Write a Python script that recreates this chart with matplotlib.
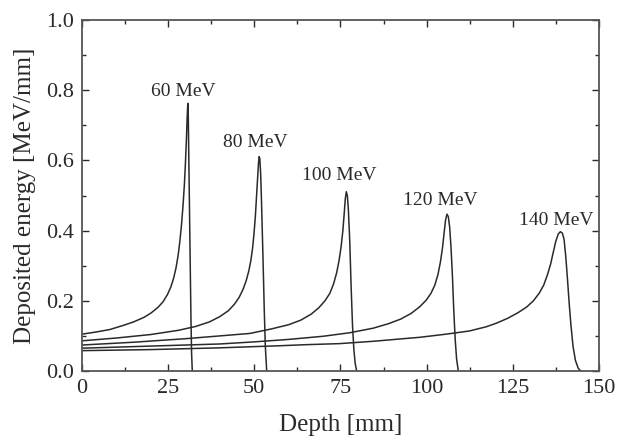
import matplotlib.pyplot as plt
from matplotlib.ticker import MultipleLocator

# Bragg curves
depth_60 = [0, 4, 8, 12, 15, 18, 20, 22, 23.5, 24.8, 25.8, 26.6, 27.3, 27.9,
            28.4, 28.9, 29.3, 29.7, 30.0, 30.3, 30.5, 30.7, 30.85, 31.0, 31.3,
            31.6, 31.8, 32.0]
dose_60 = [0.105, 0.111, 0.118, 0.13, 0.14, 0.153, 0.165, 0.181, 0.197, 0.218,
           0.24, 0.265, 0.295, 0.33, 0.37, 0.42, 0.47, 0.53, 0.59, 0.66, 0.72,
           0.763, 0.72, 0.6, 0.38, 0.16, 0.05, 0.0]

depth_80 = [0, 10, 20, 28, 33, 37, 40, 42.5, 44.2, 45.6, 46.7, 47.6, 48.4, 49.0,
            49.5, 49.9, 50.3, 50.6, 50.9, 51.2, 51.4, 51.6, 51.85, 52.1, 52.5,
            52.9, 53.2, 53.6]
dose_80 = [0.086, 0.094, 0.104, 0.116, 0.127, 0.14, 0.155, 0.172, 0.19, 0.21,
           0.232, 0.256, 0.285, 0.315, 0.35, 0.39, 0.44, 0.49, 0.54, 0.59,
           0.611, 0.605, 0.56, 0.48, 0.33, 0.17, 0.07, 0.0]

depth_100 = [0, 15, 30, 40, 48.7, 55, 60, 63.5, 66.5, 68.7, 70.5, 71.9, 73.0,
             73.9, 74.6, 75.2, 75.7, 76.1, 76.4, 76.7, 77.0, 77.3, 77.7, 78.1,
             78.5, 78.9, 79.3, 79.7]
dose_100 = [0.074, 0.082, 0.092, 0.1, 0.107, 0.12, 0.132, 0.145, 0.162, 0.18,
            0.2, 0.221, 0.248, 0.28, 0.315, 0.355, 0.4, 0.45, 0.49, 0.511, 0.5,
            0.46, 0.37, 0.24, 0.13, 0.06, 0.02, 0.0]

depth_120 = [0, 20, 40, 50, 60, 70, 77.7, 84.5, 89, 92.5, 95.5, 98, 99.9, 101.3,
             102.4, 103.3, 104.0, 104.6, 105.1, 105.5, 105.9, 106.3, 106.7,
             107.1, 107.5, 107.9, 108.3, 108.7, 109.2]
dose_120 = [0.065, 0.071, 0.077, 0.083, 0.09, 0.099, 0.109, 0.122, 0.135, 0.148,
            0.164, 0.183, 0.202, 0.222, 0.245, 0.275, 0.31, 0.35, 0.395, 0.43,
            0.447, 0.44, 0.41, 0.35, 0.27, 0.17, 0.09, 0.035, 0.0]

depth_140 = [0, 20, 40, 48.7, 57.5, 65, 74.8, 85, 92, 98, 105.7, 112.4, 117.3,
             120.2, 123.5, 126.5, 129, 131, 132.7, 134, 135.1, 136, 136.8,
             137.5, 138.2, 138.8, 139.4, 139.9, 140.4, 140.9, 141.4, 141.9,
             142.5, 143.2, 144.0, 144.7]
dose_140 = [0.058, 0.061, 0.066, 0.069, 0.072, 0.075, 0.078, 0.085, 0.091,
            0.096, 0.105, 0.114, 0.126, 0.136, 0.15, 0.166, 0.182, 0.2, 0.222,
            0.245, 0.275, 0.305, 0.34, 0.37, 0.39, 0.397, 0.393, 0.375, 0.325,
            0.26, 0.19, 0.13, 0.07, 0.03, 0.008, 0.0]

labels = ["60 MeV", "80 MeV", "100 MeV", "120 MeV", "140 MeV"]
label_x = [29.3, 50.2, 74.6, 104.0, 137.6]
label_y = [0.798, 0.65, 0.558, 0.485, 0.43]

plt.rcParams["font.family"] = ["Liberation Serif", "DejaVu Serif"]
ink = "#2a2a2a"

fig = plt.figure(figsize=(6.19, 4.38), dpi=100)
ax = fig.add_axes([0.1325, 0.153, 0.835, 0.801])

curves = [(depth_60, dose_60), (depth_80, dose_80), (depth_100, dose_100),
          (depth_120, dose_120), (depth_140, dose_140)]
for d, e in curves:
    ax.plot(d, e, color=ink, lw=1.1)

for text, x, y in zip(labels, label_x, label_y):
    ax.text(x, y, text, ha="center", va="center", fontsize=14, color=ink)

ax.set_xlim(0, 150)
ax.set_ylim(0, 1.0)
ax.xaxis.set_major_locator(MultipleLocator(25))
ax.xaxis.set_minor_locator(MultipleLocator(12.5))
ax.yaxis.set_major_locator(MultipleLocator(0.2))
ax.yaxis.set_minor_locator(MultipleLocator(0.1))
ax.set_xticks([0, 25, 50, 75, 100, 125, 150])
ax.set_xticklabels(["0", "25", "50", "75", "100", "125", "150"])
ax.set_yticks([0.0, 0.2, 0.4, 0.6, 0.8, 1.0])
ax.set_yticklabels(["0.0", "0.2", "0.4", "0.6", "0.8", "1.0"])

ax.tick_params(which="both", direction="in", top=True, right=True,
               colors=ink, labelsize=16, width=1.0)
ax.tick_params(which="major", length=5, pad=6)
ax.tick_params(which="minor", length=3)
for s in ax.spines.values():
    s.set_color("#555555")
    s.set_linewidth(1.3)

ax.set_xlabel("Depth [mm]", fontsize=18, color=ink, labelpad=11)
ax.set_ylabel("Deposited energy [MeV/mm]", fontsize=18, color=ink, labelpad=7)

fig.savefig("out.png", dpi=100)
